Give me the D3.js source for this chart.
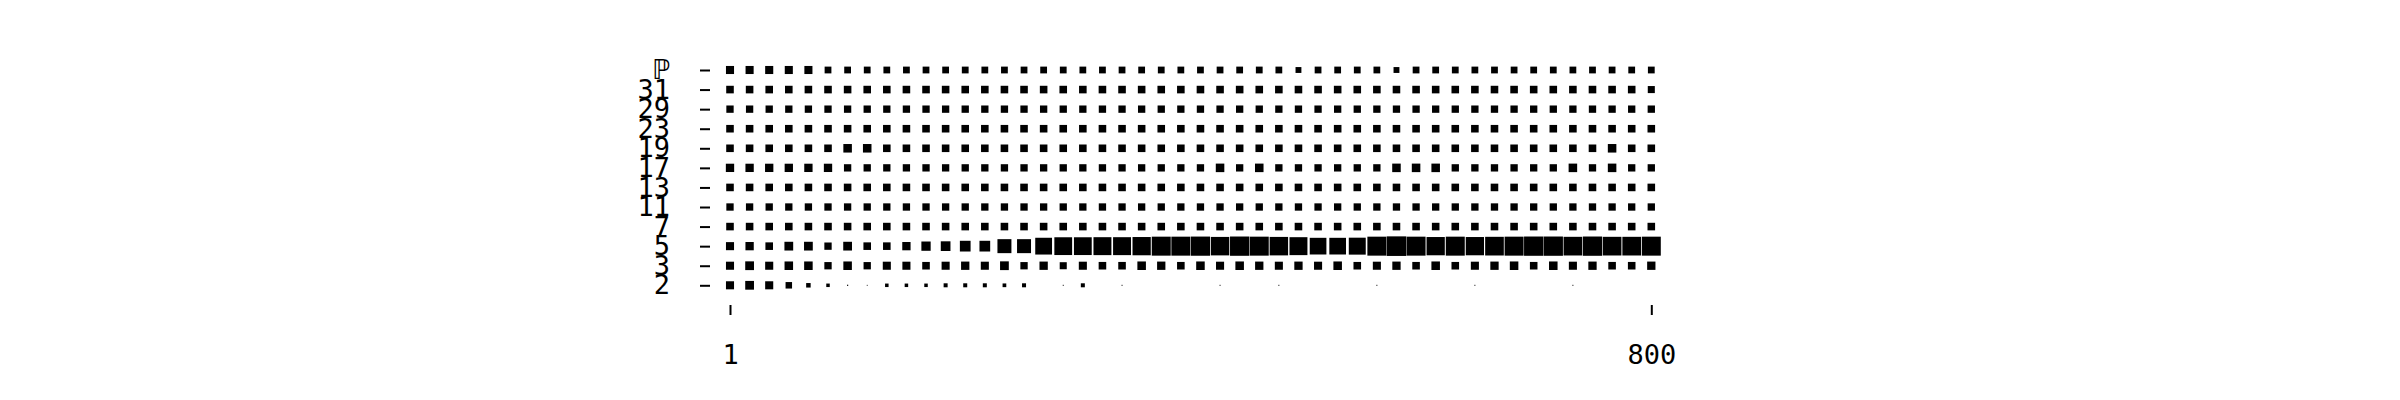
<!DOCTYPE html>
<html>
<head>
<meta charset="utf-8">
<script src="https://cdn.jsdelivr.net/npm/d3@7"></script>
<style>
  html, body { margin: 0; padding: 0; background: #fff; }
  svg { display: block; }
</style>
</head>
<body>
<svg id="chart" width="2400" height="400"></svg>
<script>
// Row categories, top to bottom
const categories = ["ℙ", "31", "29", "23", "19", "17", "13", "11", "7", "5", "3", "2"];

// Column positions (n)
const nValues = [1, 18, 35, 52, 69, 86, 103, 120, 137, 154, 171, 188, 205, 222, 239, 256,
  273, 290, 307, 324, 341, 358, 375, 392, 409, 426, 443, 460, 477, 494, 511, 528,
  545, 562, 579, 596, 613, 630, 647, 664, 681, 698, 715, 732, 749, 766, 783, 800];

const xTickValues = [1, 800];

// Series values (one per column)
const valuesP  = [17, 17, 17, 17, 17, 12, 12, 12, 12, 12, 12, 12, 12, 12, 12, 12,
  12, 12, 12, 12, 12, 12, 12, 12, 12, 12, 12, 12, 12, 9, 12, 12,
  12, 12, 9, 12, 12, 12, 12, 12, 12, 12, 12, 12, 12, 12, 12, 12];
const values31 = [15, 15, 15, 15, 15, 15, 15, 15, 15, 15, 15, 15, 15, 15, 15, 15,
  15, 15, 15, 15, 15, 15, 15, 15, 15, 15, 15, 15, 15, 15, 15, 15,
  15, 15, 15, 15, 15, 15, 15, 15, 15, 15, 15, 15, 15, 15, 15, 13];
const values29 = [14, 14, 14, 14, 14, 14, 14, 14, 14, 14, 14, 14, 14, 14, 14, 14,
  14, 14, 14, 14, 14, 14, 14, 14, 14, 14, 14, 14, 14, 14, 14, 14,
  14, 14, 14, 14, 14, 14, 14, 14, 14, 14, 14, 14, 14, 14, 14, 14];
const values23 = [15, 15, 15, 15, 15, 15, 15, 15, 15, 15, 15, 15, 15, 15, 15, 15,
  15, 15, 15, 15, 15, 15, 15, 15, 15, 15, 15, 15, 15, 15, 15, 15,
  15, 15, 15, 15, 15, 15, 15, 15, 15, 15, 15, 15, 15, 15, 15, 15];
const values19 = [15, 15, 15, 15, 15, 15, 19, 19, 15, 15, 15, 15, 15, 15, 15, 15,
  15, 15, 15, 15, 15, 15, 15, 15, 15, 15, 15, 15, 15, 15, 15, 15,
  15, 15, 15, 15, 15, 15, 15, 15, 15, 15, 15, 15, 15, 19, 15, 15];
const values17 = [18, 18, 18, 18, 18, 18, 14, 14, 14, 14, 14, 14, 14, 14, 14, 14,
  14, 14, 14, 14, 14, 14, 14, 14, 14, 19, 14, 19, 14, 14, 14, 14,
  14, 14, 19, 19, 19, 14, 14, 14, 14, 14, 14, 19, 14, 19, 14, 14];
const values13 = [15, 15, 15, 15, 15, 15, 15, 15, 15, 15, 15, 15, 15, 15, 15, 15,
  15, 15, 15, 15, 15, 15, 15, 15, 15, 15, 15, 15, 15, 15, 15, 15,
  15, 15, 15, 15, 15, 15, 15, 15, 15, 15, 15, 15, 15, 15, 15, 15];
const values11 = [14, 14, 14, 14, 14, 14, 14, 14, 14, 14, 14, 14, 14, 14, 14, 14,
  14, 14, 14, 14, 14, 14, 14, 14, 14, 14, 14, 14, 14, 14, 14, 14,
  14, 14, 14, 14, 14, 14, 14, 14, 14, 14, 14, 14, 14, 14, 14, 14];
const values7  = [15, 15, 15, 15, 15, 15, 15, 15, 15, 15, 15, 15, 15, 15, 15, 15,
  15, 15, 15, 15, 15, 15, 15, 15, 15, 15, 15, 15, 15, 15, 15, 15,
  15, 15, 15, 15, 15, 15, 15, 15, 15, 15, 15, 15, 15, 15, 15, 15];
const values5  = [17, 18, 15, 20, 20, 14, 20, 15, 15, 18, 22.5, 24.5, 30, 30, 51, 51,
  73.5, 82.5, 82.5, 84, 84, 87, 94, 94, 96, 89, 97, 94, 89, 84, 72.6, 72.6,
  75, 94, 100, 94, 87, 94, 87, 91, 94, 97, 97, 91, 97, 91, 91, 94];
const values3  = [17, 20, 17, 19, 19, 14, 19, 14, 17, 17, 15, 17, 18, 17, 20, 14,
  18, 13, 17, 15, 15, 19, 18, 15, 19, 17, 19, 18, 17, 18, 17, 19,
  15, 17, 18, 15, 19, 15, 17, 18, 19, 15, 19, 17, 18, 15, 15, 18];
const values2  = [17, 20, 17, 11, 5.3, 3.2, 0.37, 0.21, 3.2, 3.2, 3.2, 4.2, 4.2, 4.2, 3.6, 4.2,
  0, 0.26, 4.2, 0, 0.26, 0, 0, 0, 0, 0.26, 0, 0, 0.26, 0, 0, 0,
  0, 0.26, 0, 0, 0, 0, 0.26, 0, 0, 0, 0, 0.26, 0, 0, 0, 0];

const seriesByCategory = {
  "ℙ": valuesP, "31": values31, "29": values29, "23": values23, "19": values19,
  "17": values17, "13": values13, "11": values11, "7": values7, "5": values5,
  "3": values3, "2": values2
};

const valueMax = 100;

// ---- drawing ----
const svg = d3.select("#chart");

const x = d3.scaleLinear().domain([1, 800]).range([730, 1651.3]);
const y = d3.scalePoint().domain(categories).range([70, 285.3]);
const size = d3.scaleSqrt().domain([0, valueMax]).range([0, y.step()]);

const cells = [];
categories.forEach(cat => {
  seriesByCategory[cat].forEach((v, i) => {
    cells.push({ cat, n: nValues[i], v });
  });
});

svg.append("g")
  .selectAll("rect")
  .data(cells.filter(d => d.v > 0))
  .join("rect")
  .attr("x", d => x(d.n) - size(d.v) / 2)
  .attr("y", d => y(d.cat) - size(d.v) / 2)
  .attr("width", d => size(d.v))
  .attr("height", d => size(d.v))
  .attr("fill", "#000");

const fontFamily = "'DejaVu Sans Mono', 'DejaVu Sans', monospace";

const yAxis = svg.append("g")
  .attr("transform", "translate(710,0)")
  .call(d3.axisLeft(y).tickSize(10).tickPadding(30));
yAxis.select(".domain").remove();
yAxis.selectAll("text")
  .attr("font-family", fontFamily)
  .attr("font-size", 27)
  .attr("fill", "#000");
yAxis.selectAll("line").attr("stroke", "#000").attr("stroke-width", 2);

const xAxis = svg.append("g")
  .attr("transform", "translate(0,305)")
  .call(d3.axisBottom(x).tickValues(xTickValues).tickFormat(d3.format("d")).tickSize(10).tickPadding(30));
xAxis.select(".domain").remove();
xAxis.selectAll("text")
  .attr("font-family", fontFamily)
  .attr("font-size", 27)
  .attr("fill", "#000");
xAxis.selectAll("line").attr("stroke", "#000").attr("stroke-width", 2);
</script>
</body>
</html>
